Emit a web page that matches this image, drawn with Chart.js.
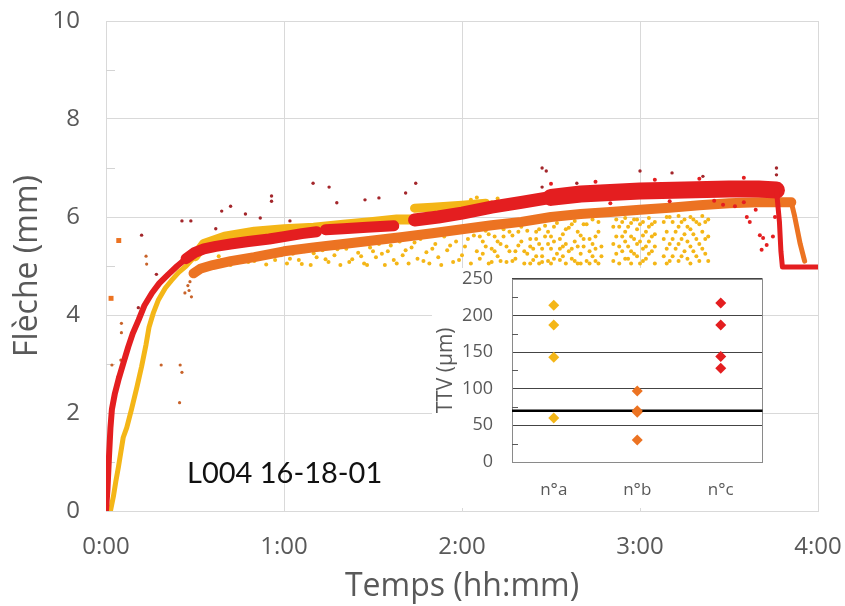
<!DOCTYPE html>
<html>
<head>
<meta charset="utf-8">
<script src="https://cdn.jsdelivr.net/npm/chart.js@4.4.1/dist/chart.umd.min.js"></script>
<style>
  body { margin: 0; background: #fff; }
  #wrap { position: relative; width: 845px; height: 606px; }
  #main { position: absolute; left: 0; top: 0; }
  #fond { position: absolute; left: 432px; top: 268px; width: 331px; height: 240px; background: #fff; }
  #inset { position: absolute; left: 432px; top: 268px; }
</style>
</head>
<body>
<div id="wrap">
  <canvas id="main" width="845" height="606"></canvas>
  <div id="fond"></div>
  <canvas id="inset" width="336" height="240"></canvas>
</div>
<script>
// temps en minutes, fleche en mm : [t, fleche]
var rouge_1 = [[0,0],[0.5,0.45],[1,1.1],[1.5,1.7],[2,2.08],[3,2.4],[4.2,2.68],[6,3.05],[7.5,3.35],[9,3.62],[11,3.9],[13,4.2],[15.5,4.45],[18,4.65],[21,4.83],[24,5.0],[27,5.15],[30,5.28],[33,5.35],[37,5.4],[42,5.45],[48,5.5],[55,5.55],[60,5.6],[66,5.66],[71,5.7]];
var rouge_2 = [[74,5.74],[80,5.76],[88,5.79],[97,5.82]];
var rouge_3 = [[104,5.94],[112,6.0],[120,6.08],[130,6.2],[140,6.3],[150,6.4],[160,6.47],[170,6.5],[180,6.53],[195,6.55],[210,6.57],[220,6.57],[226,6.55],[227,5.9],[227.5,5.3],[228,4.98],[240,4.98]];
var rouge_points = [[216,6.0],[217,5.9],[220.4,5.63],[221.5,5.57],[222.7,5.43],[221,5.33],[224.8,5.6],[225.5,6.0],[212,6.22],[208,6.25],[215,6.3],[219,6.15],[150,6.68],[165,6.72],[185,6.76],[200,6.78],[215,6.8],[170,6.28],[190,6.32],[205,6.33]];
var rouge_isoles = [[12,5.63],[25.6,5.92],[28.6,5.92],[37,5.76],[39,6.12],[42,6.22],[47,6.06],[52,5.98],[55.8,6.43],[55.8,6.32],[62,5.92],[69.8,6.69],[75.2,6.61],[77.8,6.29],[87.3,6.35],[92,6.39],[101,6.49],[104.4,6.69],[147,7.0],[148.4,6.94],[147,6.61],[158.7,6.69],[180,6.94],[190.8,6.9],[201.2,6.83],[226,7.0],[226,6.86],[10.9,4.15],[17,4.83]];

var orange_bande = [[29.5,4.85],[32,4.95],[36,5.02],[42,5.1],[50,5.18],[60,5.3],[70,5.38],[80,5.45],[90,5.52],[100,5.59],[110,5.67],[120,5.75],[130,5.83],[140,5.9],[150,6.0],[160,6.06],[170,6.1],[180,6.15],[190,6.19],[200,6.24],[210,6.28],[220,6.3],[226,6.3],[231,6.3],[232,6.05],[233,5.75],[234,5.45],[235.5,5.1]];
var orange_gros = [[1.7,4.34],[4.3,5.52]];
var orange_isoles = [[2,2.98],[4,2.74],[5,3.08],[5.2,3.83],[5.2,3.64],[7.3,3.31],[13.5,5.2],[13.7,5.04],[18.6,2.98],[24.8,2.21],[25,2.98],[25.6,2.83],[26.6,4.45],[27.6,4.6],[28,4.5],[28.3,4.68],[28.8,4.37]];

var jaune_1 = [[1.5,0],[2.5,0.3],[3.3,0.6],[4.2,0.9],[5.8,1.5],[7,1.7],[8.7,2.1],[10.5,2.55],[12,2.95],[13.5,3.4],[14.5,3.75],[16,4.05],[17.6,4.3],[20,4.55],[22,4.7],[24.5,4.87],[27,5.0],[30,5.2],[33,5.45],[40,5.6],[50,5.7],[60,5.75],[70,5.78],[80,5.84],[90,5.9],[98,5.95],[103,5.95]];
var jaune_2 = [[104,6.18],[110,6.2],[120,6.24],[128,6.28]];
var jaune_isoles = [[123,6.35],[125,6.4],[130,6.3],[132,6.38]];
var jaune_nuage = [[36,5.05],[39,5.12],[42,5.02],[45,5.15],[48,5.08],[51,5.18],[54,5.03],[57,5.12],[59,5.22],
  [61,5.05],[63,5.25],[65,5.12],[67,5.3],[69,5.02],[71,5.18],[73,5.32],[75,5.08],[77,5.22],[79,5.02],[81,5.35],[83,5.14],[85,5.27],[87,5.05],[89,5.38],
  [91,5.18],[92,5.45],[94,5.02],[95,5.3],[97,5.12],[99,5.5],[100,5.22],[102,5.05],[103,5.38],[105,5.15],[106,5.55],[108,5.28],[109,5.05],[111,5.45],[112,5.18],[114,5.6],[115,5.32],[117,5.08],[118,5.5],[120,5.22],[121,5.4],[123,5.05],[124,5.62],[125,5.3],
  [126,5.15],[127,5.5],[128,5.72],[129,5.05],[130,5.35],[131,5.6],[132,5.2],[133,5.45],[134,5.75],[135,5.08],[136,5.3],[137,5.62],[138,5.15],[139,5.42],[140,5.8],[141,5.05],[142,5.25],[143,5.55],[144,5.12],[144,5.35],[145,5.7],[146,5.05],[146,5.45],[147,5.2],[148,5.82],[148,5.6],[149,5.1],[150,5.35],[150,5.05],[151,5.5],[152,5.25],[152,5.88],[153,5.12],[154,5.65],[154,5.4],[155,5.05],[156,5.3],[156,5.78],[157,5.15],[158,5.5],[158,5.92],[159,5.05],[160,5.25],[160,5.62],[161,5.4],[162,5.1],[162,5.85],[163,5.55],[164,5.2],[164,5.95],[165,5.35],[166,5.05],[166,5.7],
  [172,5.95],[172,5.6],[172,5.25],[173,5.8],[173,5.4],[173,5.05],[175,5.98],[175,5.7],[175,5.5],[175,5.15],[177,5.88],[177,5.6],[177,5.3],[177,5.05],[179,5.95],[179,5.75],[179,5.45],[179,5.2],[181,5.9],[181,5.62],[181,5.35],[181,5.1],[183,5.98],[183,5.8],[183,5.5],[183,5.25],[185,5.9],[185,5.65],[185,5.4],[185,5.05],
  [189,6.0],[189,5.7],[189,5.35],[189,5.05],[191,5.9],[191,5.55],[191,5.2],[193,6.02],[193,5.8],[193,5.45],[193,5.1],[195,5.95],[195,5.65],[195,5.3],[197,6.0],[197,5.75],[197,5.4],[197,5.05],[199,5.9],[199,5.55],[199,5.2],[201,6.02],[201,5.7],[201,5.35],[203,5.95],[203,5.6],[203,5.1],
  [38,5.2],[44,5.06],[50,5.1],[56,5.2],[62,5.15],[66,5.04],[70,5.26],[74,5.14],[78,5.34],[82,5.08],[86,5.2],[88,5.02],[90,5.3],[93,5.25],[96,5.42],[98,5.05],[101,5.32],[104,5.48],[107,5.1],[110,5.35],[113,5.02],[116,5.42],[119,5.12],[122,5.55],
  [126,5.6],[127,5.25],[128,5.4],[129,5.65],[130,5.08],[131,5.3],[132,5.5],[133,5.1],[134,5.6],[135,5.4],[136,5.7],[137,5.1],[138,5.3],[139,5.7],[140,5.5],[141,5.3],[142,5.72],[143,5.05],[143,5.4],[145,5.2],[145,5.55],[146,5.75],[147,5.35],[147,5.08],[149,5.45],[149,5.7],[150,5.6],[151,5.15],[151,5.8],[153,5.35],[153,5.55],[154,5.2],[155,5.75],[155,5.45],[157,5.35],[157,5.85],[158,5.1],[159,5.7],[159,5.4],[160,5.05],[161,5.55],[161,5.85],[163,5.3],[163,5.05],[164,5.45],[165,5.6],[165,5.1],[166,5.9],[167,5.4],[167,5.2],
  [171,5.8],[171,5.45],[171,5.1],[174,5.9],[174,5.6],[174,5.3],[176,5.8],[176,5.4],[176,5.15],[178,5.95],[178,5.55],[178,5.25],[180,5.85],[180,5.5],[180,5.05],[182,5.7],[182,5.4],[182,5.15],[184,5.85],[184,5.6],[184,5.3],
  [188,5.9],[188,5.55],[188,5.2],[190,6.0],[190,5.45],[190,5.1],[192,5.7],[192,5.35],[194,5.9],[194,5.55],[194,5.2],[196,5.8],[196,5.5],[196,5.15],[198,5.95],[198,5.65],[198,5.3],[200,5.85],[200,5.45],[200,5.1],[202,5.9],[202,5.55],[202,5.25]];

var echantillon = 'L004 16-18-01';

// encart TTV (µm)
var categories = ['n°a', 'n°b', 'n°c'];
var ttv_a = [214, 187, 143, 60];
var ttv_b = [97, 70, 68, 30];
var ttv_c = [217, 187, 144, 128];
var ttv_limite = 70;

var JAUNE = '#F4B617', ORANGE = '#EC7322', ROUGE = '#E41E20', BRUN = '#A3262B', GRIS = '#595959';

function pts(a) {
  return a.map(function(p) { return {x: p[0], y: p[1]}; });
}
function hhmm(v) {
  var h = Math.floor(v / 60), m = v % 60;
  return h + ':' + (m < 10 ? '0' : '') + m;
}
function bande(data, couleur, largeur) {
  return {data: pts(data), showLine: true, borderColor: couleur, backgroundColor: couleur,
    pointRadius: 0, borderWidth: largeur, borderCapStyle: 'round', borderJoinStyle: 'round'};
}
function nuage(data, couleur, r, style) {
  return {data: pts(data), showLine: false, backgroundColor: couleur, borderColor: couleur,
    pointRadius: r, borderWidth: 0, pointStyle: style || 'circle'};
}

var largeurRouge = function(ctx) {
  var t = ctx.p0.parsed.x;
  if (t < 26) return 6;
  if (t >= 226) return 5;
  if (t > 140) return 17;
  if (t > 100) return 13;
  return 11;
};

var r1 = bande(rouge_1, ROUGE, 11); r1.segment = {borderWidth: largeurRouge};
var r3 = bande(rouge_3, ROUGE, 15); r3.segment = {borderWidth: largeurRouge};
var j1 = bande(jaune_1, JAUNE, 9);
j1.segment = {borderWidth: function(ctx) { return ctx.p0.parsed.x < 28 ? 5 : 10; }};
var ob = bande(orange_bande, ORANGE, 10);
ob.segment = {borderWidth: function(ctx) { return ctx.p0.parsed.x >= 231 ? 5 : 10; }};

var deco = {
  id: 'deco',
  beforeDatasetsDraw: function(chart) {
    var ctx = chart.ctx, a = chart.chartArea, y = chart.scales.y;
    ctx.save();
    ctx.strokeStyle = '#d4d4d4';
    ctx.lineWidth = 1;
    for (var v = 1; v < 10; v += 2) {
      var py = Math.round(y.getPixelForValue(v)) + 0.5;
      ctx.beginPath(); ctx.moveTo(a.left, py); ctx.lineTo(a.left + 9, py); ctx.stroke();
    }
    ctx.restore();
  },
  afterDraw: function(chart) {
    var ctx = chart.ctx;
    ctx.save();
    ctx.fillStyle = '#111';
    ctx.font = '29px Lato';
    ctx.textBaseline = 'alphabetic';
    ctx.fillText(echantillon, chart.scales.x.getPixelForValue(27.3), chart.scales.y.getPixelForValue(0.57));
    ctx.restore();
  }
};

new Chart(document.getElementById('main'), {
  type: 'scatter',
  data: {
    datasets: [
      nuage(rouge_isoles, BRUN, 1.7),
      nuage(rouge_points, ROUGE, 2),
      r1,
      bande(rouge_2, ROUGE, 11),
      r3,
      nuage(orange_gros, ORANGE, 3.5, 'rect'),
      nuage(orange_isoles, '#C8632A', 1.6),
      ob,
      j1,
      bande(jaune_2, JAUNE, 9),
      nuage(jaune_isoles, JAUNE, 2),
      nuage(jaune_nuage, JAUNE, 2)
    ]
  },
  options: {
    responsive: false,
    animation: false,
    layout: {padding: {top: 21, right: 27, left: 0, bottom: 0}},
    plugins: {legend: {display: false}, tooltip: {enabled: false}},
    scales: {
      x: {
        min: 0, max: 240,
        afterFit: function(s) { s.height = 95; },
        grid: {color: '#d9d9d9', drawTicks: true, tickLength: 22, tickColor: 'rgba(0,0,0,0)'},
        border: {color: '#d9d9d9'},
        ticks: {stepSize: 60, callback: hhmm, color: GRIS, padding: 0, maxRotation: 0,
          font: {family: 'Open Sans', size: 24}},
        title: {display: true, text: 'Temps (hh:mm)', color: GRIS, padding: {top: 0, bottom: 0},
          font: {family: 'Open Sans', size: 32}}
      },
      y: {
        min: 0, max: 10,
        afterFit: function(s) { s.width = 106; },
        grid: {color: '#d9d9d9', drawTicks: true, tickLength: 26, tickColor: 'rgba(0,0,0,0)'},
        border: {color: '#d9d9d9'},
        ticks: {stepSize: 2, color: GRIS, padding: 0, font: {family: 'Open Sans', size: 24}},
        title: {display: true, text: 'Flèche (mm)', color: GRIS, padding: {top: 9, bottom: 0},
          font: {family: 'Open Sans', size: 32}}
      }
    }
  },
  plugins: [deco]
});

// encart
function serie(vals, cat, couleur) {
  return {
    data: vals.map(function(v) { return {x: cat, y: v}; }),
    showLine: false, pointStyle: 'rectRot', pointRadius: 5.5,
    backgroundColor: couleur, borderColor: couleur, borderWidth: 0
  };
}

var cadre = {
  id: 'cadre',
  beforeDatasetsDraw: function(chart) {
    var ctx = chart.ctx, a = chart.chartArea, y = chart.scales.y;
    ctx.save();
    ctx.strokeStyle = '#8a8a8a';
    ctx.lineWidth = 1;
    ctx.strokeRect(Math.round(a.left) + 0.5, Math.round(a.top) + 0.5, Math.round(a.width) - 1, Math.round(a.height));
    ctx.strokeStyle = GRIS;
    for (var v = 25; v < 250; v += 50) {
      var py = Math.round(y.getPixelForValue(v)) + 0.5;
      ctx.beginPath(); ctx.moveTo(a.left, py); ctx.lineTo(a.left + 6, py); ctx.stroke();
    }
    var ly = y.getPixelForValue(ttv_limite);
    ctx.strokeStyle = '#000';
    ctx.lineWidth = 2.5;
    ctx.beginPath(); ctx.moveTo(a.left, ly); ctx.lineTo(a.right, ly); ctx.stroke();
    ctx.restore();
  }
};

new Chart(document.getElementById('inset'), {
  type: 'line',
  data: {
    labels: categories,
    datasets: [
      serie(ttv_a, categories[0], JAUNE),
      serie(ttv_b, categories[1], ORANGE),
      serie(ttv_c, categories[2], ROUGE)
    ]
  },
  options: {
    responsive: false,
    animation: false,
    layout: {padding: {top: 10, right: 1, left: 0, bottom: 0}},
    plugins: {legend: {display: false}, tooltip: {enabled: false}},
    scales: {
      x: {
        type: 'category', offset: true,
        afterFit: function(s) { s.height = 46; },
        grid: {display: false, tickLength: 18},
        border: {display: false},
        ticks: {color: GRIS, padding: 0, font: {family: 'Open Sans', size: 17}}
      },
      y: {
        min: 0, max: 250,
        afterFit: function(s) { s.width = 80; },
        grid: {color: '#444', drawTicks: true, tickLength: 19, tickColor: 'rgba(0,0,0,0)'},
        border: {display: false},
        ticks: {stepSize: 50, color: GRIS, padding: 0, font: {family: 'Open Sans', size: 18}},
        title: {display: true, text: 'TTV (µm)', color: GRIS, padding: {top: 1, bottom: 0},
          font: {family: 'Open Sans', size: 21}}
      }
    }
  },
  plugins: [cadre]
});
</script>
</body>
</html>
